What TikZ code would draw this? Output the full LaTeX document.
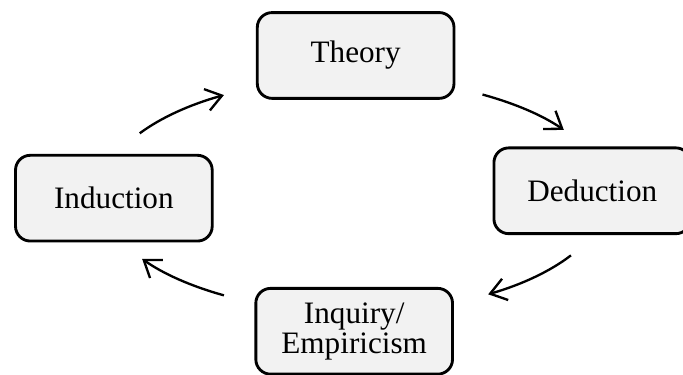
\documentclass[tikz,border=0pt]{standalone}
\usepackage{fontspec}
\setmainfont{Liberation Serif}
\usetikzlibrary{arrows.meta}

\begin{document}
\begin{tikzpicture}[
  stage/.style={rectangle,rounded corners=0.2cm,draw,line width=1.1pt,fill=black!5,
    minimum width=2.66cm,minimum height=1.16cm,align=center,
    font=\fontsize{12}{11.5}\selectfont},
  cyc/.style={line width=0.9pt,-{Straight Barb[length=6pt,width=8.5pt]}}
]
\useasboundingbox (0,0) rectangle (9.237,-5.058);
\path
(4.81,-0.75) node[stage] (theory) {Theory}
(1.54,-2.68) node[stage] (induction) {Induction}
(8.01,-2.58) node[stage] (deduction) {Deduction}
(4.79,-4.48) node[stage] (inquiry) {Inquiry/\\Empiricism};

% centre of the cycle
\coordinate (hub) at (4.79,-2.64);
\draw[cyc] (hub) ++(148:3.42cm and 1.58cm) arc[start angle=148,end angle=121,x radius=3.42cm,y radius=1.58cm];
\draw[cyc] (hub) ++(59.5:3.42cm and 1.58cm) arc[start angle=59.5,end angle=34,x radius=3.42cm,y radius=1.58cm];
\draw[cyc] (hub) ++(-31:3.42cm and 1.58cm) arc[start angle=-31,end angle=-58,x radius=3.42cm,y radius=1.58cm];
\draw[cyc] (hub) ++(239:3.42cm and 1.58cm) arc[start angle=239,end angle=213,x radius=3.42cm,y radius=1.58cm];
\end{tikzpicture}
\end{document}
